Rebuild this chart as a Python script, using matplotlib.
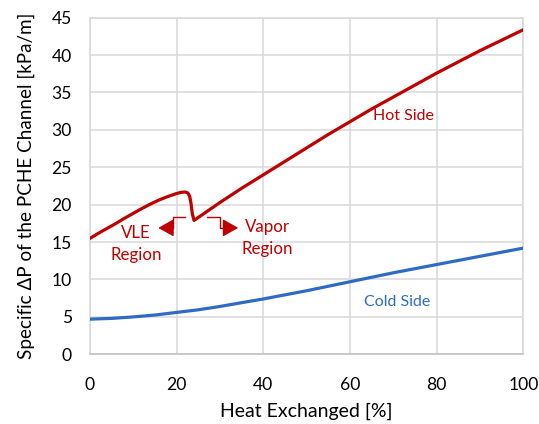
import matplotlib
matplotlib.use("Agg")
import matplotlib.pyplot as plt

plt.rcParams['font.family'] = ['Lato', 'DejaVu Sans']

# Data
hot_x = [0, 2, 4, 6, 8, 10, 12, 14, 16, 18, 20, 21, 22, 22.6, 23, 23.3, 23.6, 24,
         26, 30, 35, 40, 45, 50, 55, 60, 65, 70, 75, 80, 85, 90, 95, 100]
hot_y = [15.5, 16.2, 16.85, 17.5, 18.2, 18.85, 19.5, 20.1, 20.65, 21.1, 21.5, 21.65, 21.7,
         21.55, 21.1, 20.2, 18.8, 17.9,
         18.7, 20.3, 22.2, 24.0, 25.8, 27.6, 29.4, 31.1, 32.8, 34.4, 36.0, 37.6,
         39.1, 40.6, 42.0, 43.4]
cold_x = [0, 5, 10, 15, 20, 25, 30, 35, 40, 45, 50, 55, 60, 65, 70, 75, 80, 85, 90, 95, 100]
cold_y = [4.7, 4.8, 5.0, 5.25, 5.6, 5.95, 6.4, 6.9, 7.4, 7.95, 8.5, 9.1, 9.7, 10.3,
          10.9, 11.45, 12.0, 12.55, 13.1, 13.65, 14.2]

x_ticks = [0, 20, 40, 60, 80, 100]
y_ticks = [0, 5, 10, 15, 20, 25, 30, 35, 40, 45]

RED = '#C00000'
BLUE = '#2F6BC4'
GRID = '#D9D9D9'

fig = plt.figure(figsize=(5.39, 4.24), dpi=100)
ax = fig.add_axes([0.167, 0.1644, 0.8042, 0.7939])

ax.plot(hot_x, hot_y, color=RED, lw=2.3, solid_joinstyle='round', zorder=3)
ax.plot(cold_x, cold_y, color=BLUE, lw=2.3, solid_joinstyle='round', zorder=3)

ax.set_xlim(0, 100)
ax.set_ylim(0, 45)
ax.set_xticks(x_ticks)
ax.set_yticks(y_ticks)
ax.grid(True, color=GRID, lw=1.1, zorder=0)
ax.set_axisbelow(True)
for s in ax.spines.values():
    s.set_color(GRID)
    s.set_linewidth(1.1)
ax.spines['bottom'].set_color('#BFBFBF')
ax.tick_params(length=0, labelsize=12.6, colors='#000000')
ax.tick_params(axis='y', pad=13)
ax.tick_params(axis='x', pad=16)

ax.set_xlabel('Heat Exchanged [%]', fontsize=14.0, labelpad=7)
ax.set_ylabel('Specific ΔP of the PCHE Channel [kPa/m]', fontsize=13.6, labelpad=12)

# Annotations
ax.text(72.4, 31.8, 'Hot Side', color=RED, fontsize=11.5, ha='center', va='center')
ax.text(70.9, 7.0, 'Cold Side', color=BLUE, fontsize=11.5, ha='center', va='center')
ax.text(10.6, 14.8, 'VLE\nRegion', color=RED, fontsize=12.2, ha='center', va='center',
        linespacing=1.45)
ax.text(41.0, 15.6, 'Vapor\nRegion', color=RED, fontsize=12.2, ha='center', va='center',
        linespacing=1.45)

# bracket arrows
ax.plot([21.9, 19.1, 19.1, 18.0], [18.3, 18.3, 16.9, 16.9], color=RED, lw=1.0, zorder=3)
ax.annotate('', xy=(15.75, 16.9), xytext=(18.3, 16.9),
            arrowprops=dict(arrowstyle='-|>,head_length=0.8,head_width=0.45',
                            color=RED, lw=1.0, shrinkA=0, shrinkB=0, mutation_scale=12))
ax.plot([26.9, 30.0, 30.0, 31.3], [18.3, 18.3, 16.9, 16.9], color=RED, lw=1.0, zorder=3)
ax.annotate('', xy=(34.2, 16.9), xytext=(31.0, 16.9),
            arrowprops=dict(arrowstyle='-|>,head_length=0.8,head_width=0.45',
                            color=RED, lw=1.0, shrinkA=0, shrinkB=0, mutation_scale=12))

fig.savefig('out.png', dpi=100)
